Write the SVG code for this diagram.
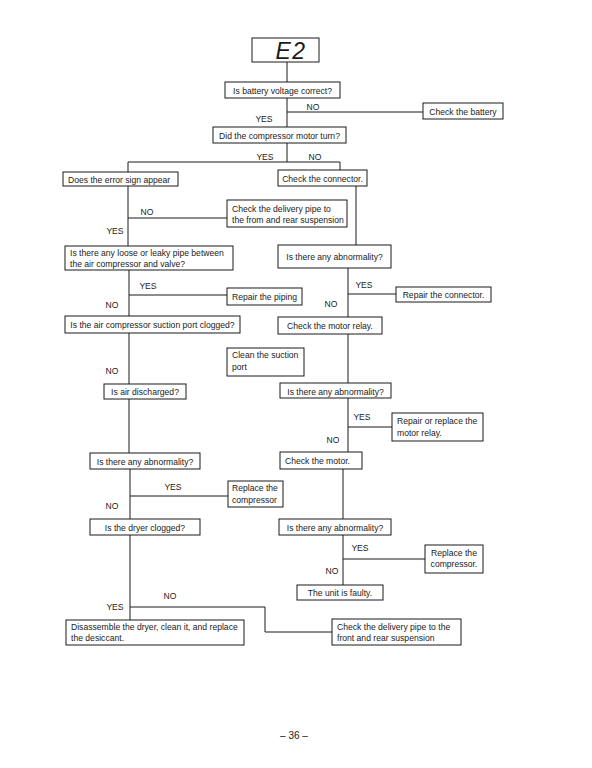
<svg xmlns="http://www.w3.org/2000/svg" width="592" height="768" viewBox="0 0 592 768">
<style>
.bg{fill:#ffffff}
.box{fill:#ffffff;stroke:#1a1a1a;stroke-width:1}
.ln{fill:none;stroke:#1a1a1a;stroke-width:1}
text{font-family:"Liberation Sans","Arial",sans-serif;font-size:8.6px;fill:#1a1a1a}
.c{text-anchor:middle}
.e2{font-size:23px;font-style:italic;letter-spacing:1.5px;text-anchor:middle}
.pg{font-size:10px;text-anchor:middle}
</style>
<rect class="bg" x="0" y="0" width="592" height="768"/>
<g id="connectors">
<path class="ln" d="M287 62V82"/>
<path class="ln" d="M287 98V127"/>
<path class="ln" d="M287 112H423"/>
<path class="ln" d="M287 143V162"/>
<path class="ln" d="M128 172V162H340V170"/>
<path class="ln" d="M128 186V246"/>
<path class="ln" d="M128 218H227"/>
<path class="ln" d="M356 186V245"/>
<path class="ln" d="M129 270V316"/>
<path class="ln" d="M129 295H227"/>
<path class="ln" d="M348 268V317"/>
<path class="ln" d="M348 294H396"/>
<path class="ln" d="M129 333V384"/>
<path class="ln" d="M348 334V383"/>
<path class="ln" d="M129 399V453"/>
<path class="ln" d="M348 398V452"/>
<path class="ln" d="M348 427H392"/>
<path class="ln" d="M130 469V519"/>
<path class="ln" d="M130 496H228"/>
<path class="ln" d="M343 469V519"/>
<path class="ln" d="M130 535V620"/>
<path class="ln" d="M343 535V585"/>
<path class="ln" d="M343 559H425"/>
<path class="ln" d="M130 607H265V632H332"/>
</g>
<g id="labels">
<text class="c" x="313" y="110">NO</text>
<text class="c" x="264" y="121.5">YES</text>
<text class="c" x="265" y="160">YES</text>
<text class="c" x="315" y="160">NO</text>
<text class="c" x="147" y="215">NO</text>
<text class="c" x="115" y="234">YES</text>
<text class="c" x="148" y="289">YES</text>
<text class="c" x="112" y="308">NO</text>
<text class="c" x="364" y="288">YES</text>
<text class="c" x="331" y="307">NO</text>
<text class="c" x="112" y="374">NO</text>
<text class="c" x="362" y="420">YES</text>
<text class="c" x="333" y="443">NO</text>
<text class="c" x="173" y="490">YES</text>
<text class="c" x="112" y="509">NO</text>
<text class="c" x="360" y="551">YES</text>
<text class="c" x="332" y="574">NO</text>
<text class="c" x="170" y="599">NO</text>
<text class="c" x="115" y="610">YES</text>
</g>
<g id="n-e2"><rect class="box" x="252" y="38" width="67" height="24"/><text class="e2" x="291" y="59">E2</text></g>
<g id="n-battery"><rect class="box" x="225" y="82" width="115" height="16"/><text class="c" x="282.5" y="93.5">Is battery voltage correct?</text></g>
<g id="n-checkbattery"><rect class="box" x="423" y="103" width="80" height="16"/><text class="c" x="463" y="114.5">Check the battery</text></g>
<g id="n-compressor"><rect class="box" x="213" y="127" width="133" height="16"/><text class="c" x="279.5" y="138.5">Did the compressor motor turn?</text></g>
<g id="n-errorsign"><rect class="box" x="63" y="172" width="115" height="14"/><text x="68" y="182.5">Does the error sign appear</text></g>
<g id="n-connector"><rect class="box" x="278" y="170" width="89" height="16"/><text class="c" x="322.5" y="181.5">Check the connector.</text></g>
<g id="n-delivery1"><rect class="box" x="227" y="200" width="120" height="27"/><text x="232" y="211.5">Check the delivery pipe to</text><text x="232" y="223">the from and rear suspension</text></g>
<g id="n-loose"><rect class="box" x="65" y="246" width="168" height="24"/><text x="70" y="255.5">Is there any loose or leaky pipe between</text><text x="70" y="266.5">the air compressor and valve?</text></g>
<g id="n-abn1"><rect class="box" x="278" y="245" width="113" height="23"/><text class="c" x="334.5" y="260">Is there any abnormality?</text></g>
<g id="n-piping"><rect class="box" x="227" y="288" width="75" height="17"/><text class="c" x="264.5" y="300">Repair the piping</text></g>
<g id="n-repconn"><rect class="box" x="396" y="287" width="95" height="15"/><text class="c" x="443.5" y="298">Repair the connector.</text></g>
<g id="n-suction"><rect class="box" x="65" y="316" width="175" height="17"/><text class="c" x="152.5" y="328">Is the air compressor suction port clogged?</text></g>
<g id="n-relay"><rect class="box" x="278" y="317" width="104" height="17"/><text class="c" x="330" y="329">Check the motor relay.</text></g>
<g id="n-clean"><rect class="box" x="227" y="348" width="77" height="28"/><text x="232" y="358">Clean the suction</text><text x="232" y="370">port</text></g>
<g id="n-air"><rect class="box" x="104" y="384" width="82" height="15"/><text class="c" x="145" y="395">Is air discharged?</text></g>
<g id="n-abn2"><rect class="box" x="280" y="383" width="111" height="15"/><text class="c" x="335.5" y="394.5">Is there any abnormality?</text></g>
<g id="n-reprelay"><rect class="box" x="392" y="413" width="91" height="28"/><text x="397" y="424">Repair or replace the</text><text x="397" y="435.5">motor relay.</text></g>
<g id="n-motor"><rect class="box" x="280" y="452" width="82" height="17"/><text x="285" y="464">Check the motor.</text></g>
<g id="n-abn3"><rect class="box" x="90" y="453" width="110" height="16"/><text class="c" x="145" y="464.5">Is there any abnormality?</text></g>
<g id="n-repcomp"><rect class="box" x="228" y="481" width="55" height="26"/><text x="232" y="491">Replace the</text><text x="232" y="502.5">compressor</text></g>
<g id="n-dryer"><rect class="box" x="90" y="519" width="110" height="16"/><text class="c" x="145" y="531">Is the dryer clogged?</text></g>
<g id="n-abn4"><rect class="box" x="279" y="519" width="112" height="16"/><text class="c" x="335" y="530.5">Is there any abnormality?</text></g>
<g id="n-repcomp2"><rect class="box" x="425" y="545" width="58" height="28"/><text class="c" x="454" y="555.5">Replace the</text><text class="c" x="454" y="567">compressor.</text></g>
<g id="n-unit"><rect class="box" x="297" y="585" width="86" height="15"/><text class="c" x="340" y="596">The unit is faulty.</text></g>
<g id="n-disassemble"><rect class="box" x="66" y="620" width="178" height="25"/><text x="71" y="629.5">Disassemble the dryer, clean it, and replace</text><text x="71" y="641">the desiccant.</text></g>
<g id="n-delivery2"><rect class="box" x="332" y="619" width="129" height="26"/><text x="337" y="629.5">Check the delivery pipe to the</text><text x="337" y="641">front and rear suspension</text></g>
<text class="pg" x="294" y="739">– 36 –</text>
</svg>
